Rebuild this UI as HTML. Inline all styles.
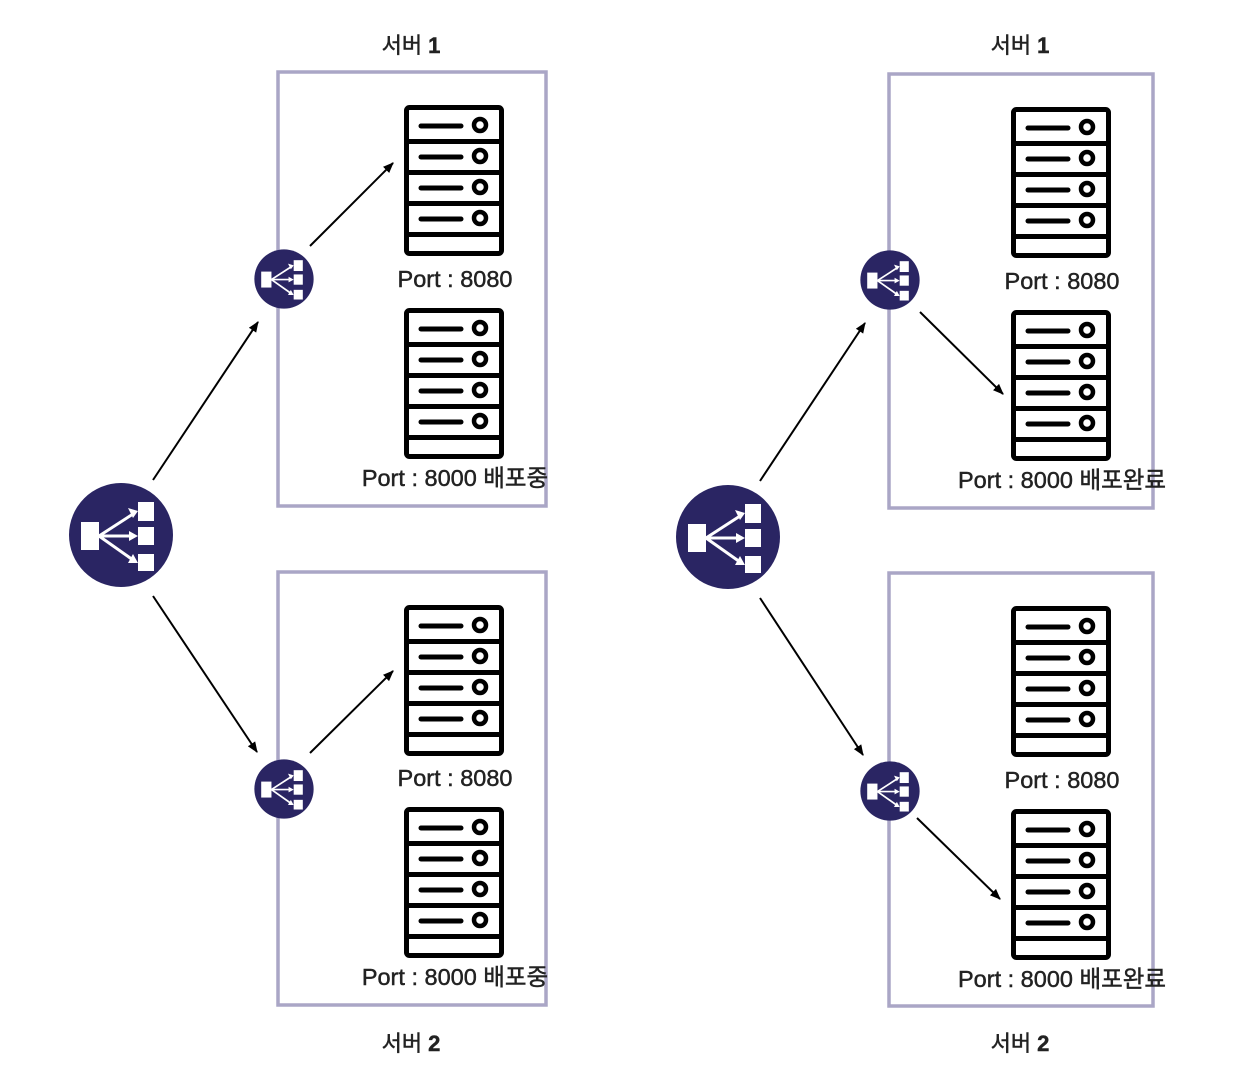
<!DOCTYPE html>
<html><head><meta charset="utf-8"><style>
html,body{margin:0;padding:0;background:#fff;width:1236px;height:1084px;overflow:hidden}
svg text{font-family:"Liberation Sans","Noto Sans CJK KR",sans-serif;fill:#222;stroke:#222;stroke-width:0.45}
</style></head><body>
<svg width="1236" height="1084" viewBox="0 0 1236 1084" xmlns="http://www.w3.org/2000/svg">
<defs>
<g id="srv">
<rect x="2.5" y="2.5" width="95" height="146" rx="3" fill="#fff" stroke="#000" stroke-width="5"/>
<g stroke="#000" stroke-width="5">
<line x1="0" y1="36.5" x2="100" y2="36.5"/><line x1="0" y1="67.5" x2="100" y2="67.5"/>
<line x1="0" y1="98.5" x2="100" y2="98.5"/><line x1="0" y1="129.5" x2="100" y2="129.5"/>
</g>
<g stroke="#000" stroke-width="5" stroke-linecap="round" fill="none">
<line x1="17" y1="21" x2="57" y2="21"/><line x1="17" y1="52" x2="57" y2="52"/>
<line x1="17" y1="83" x2="57" y2="83"/><line x1="17" y1="114" x2="57" y2="114"/>
</g>
<g stroke="#000" stroke-width="4.5" fill="#fff">
<circle cx="76" cy="20" r="6"/><circle cx="76" cy="51" r="6"/><circle cx="76" cy="82" r="6"/><circle cx="76" cy="113" r="6"/>
</g>
</g>
<g id="lb">
<circle r="52" fill="#2a2563"/>
<g fill="#fff">
<rect x="-40" y="-13" width="18" height="28"/>
<rect x="17" y="-33" width="16" height="19"/>
<rect x="17" y="-8" width="16" height="18"/>
<rect x="17" y="19" width="16" height="17"/>
</g>
<g stroke="#fff" stroke-width="3" fill="none">
<line x1="-22" y1="1" x2="12" y2="-21"/><line x1="-22" y1="1" x2="12" y2="1"/><line x1="-22" y1="1" x2="12" y2="25"/>
</g>
<g fill="#fff">
<polygon points="17,-24 7,-27 12,-17"/><polygon points="17,1 8,-4 8,6"/><polygon points="17,28 12,19 7,28"/>
</g>
</g>
<marker id="ar" viewBox="0 0 10 10" refX="9" refY="5" markerWidth="11" markerHeight="11" orient="auto" markerUnits="userSpaceOnUse">
<path d="M0,1 L10,5 L0,9 Z" fill="#000"/>
</marker>
</defs>

<g fill="none" stroke="#aaa6c6" stroke-width="3.5">
<rect x="278" y="72" width="268" height="434"/>
<rect x="278" y="572" width="268" height="433"/>
<rect x="889" y="74" width="264" height="434"/>
<rect x="889" y="573" width="264" height="433"/>
</g>

<use href="#srv" x="404" y="105"/>
<use href="#srv" x="404" y="308"/>
<use href="#srv" x="404" y="605"/>
<use href="#srv" x="404" y="807"/>
<use href="#srv" x="1011" y="107"/>
<use href="#srv" x="1011" y="310"/>
<use href="#srv" x="1011" y="606"/>
<use href="#srv" x="1011" y="809"/>

<use href="#lb" transform="translate(121,535)"/>
<use href="#lb" transform="translate(728,537)"/>
<use href="#lb" transform="translate(284,279) scale(0.57)"/>
<use href="#lb" transform="translate(284,789) scale(0.57)"/>
<use href="#lb" transform="translate(890,280) scale(0.57)"/>
<use href="#lb" transform="translate(890,791) scale(0.57)"/>

<g stroke="#000" stroke-width="2" marker-end="url(#ar)">
<line x1="153" y1="480" x2="258" y2="322"/>
<line x1="153" y1="596" x2="257" y2="752"/>
<line x1="310" y1="246" x2="393" y2="163"/>
<line x1="310" y1="753" x2="393" y2="671"/>
<line x1="760" y1="481" x2="865" y2="323"/>
<line x1="760" y1="598" x2="863" y2="755"/>
<line x1="920" y1="312" x2="1003" y2="394"/>
<line x1="917" y1="818" x2="1000" y2="899"/>
</g>

<g font-size="23.5" text-anchor="middle">
<text x="455" y="287">Port : 8080</text>
<text x="455" y="486">Port : 8000 배포중</text>
<text x="455" y="786">Port : 8080</text>
<text x="455" y="985">Port : 8000 배포중</text>
<text x="1062" y="289">Port : 8080</text>
<text x="1062" y="488">Port : 8000 배포완료</text>
<text x="1062" y="788">Port : 8080</text>
<text x="1062" y="987">Port : 8000 배포완료</text>
</g>
<g font-size="22" text-anchor="middle">
<text x="411" y="53">서버 <tspan font-weight="bold">1</tspan></text>
<text x="411" y="1051">서버 <tspan font-weight="bold">2</tspan></text>
<text x="1020" y="53">서버 <tspan font-weight="bold">1</tspan></text>
<text x="1020" y="1051">서버 <tspan font-weight="bold">2</tspan></text>
</g>
</svg>
</body></html>
